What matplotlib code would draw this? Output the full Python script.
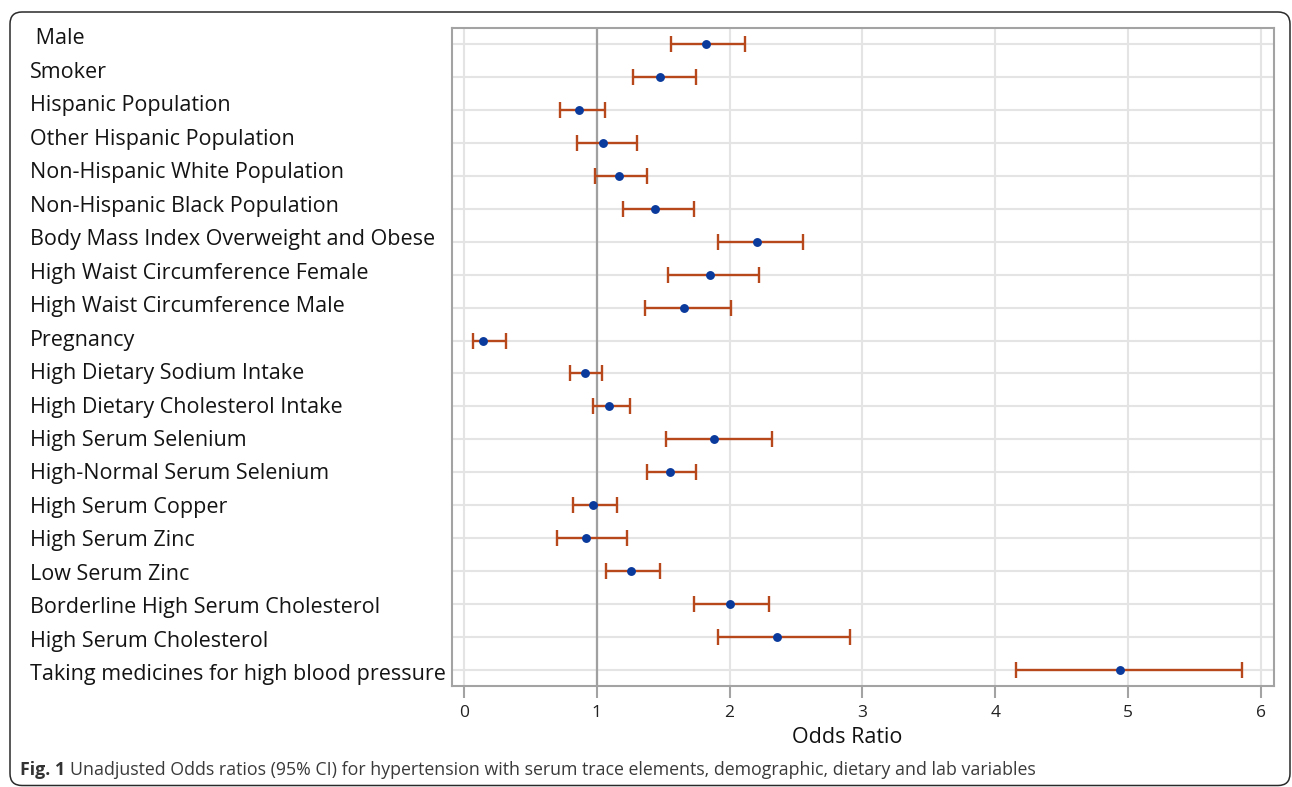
import matplotlib
matplotlib.use("Agg")
import matplotlib.pyplot as plt
from matplotlib.patches import FancyBboxPatch
from matplotlib.transforms import IdentityTransform, blended_transform_factory
import numpy as np

labels = [
    " Male", "Smoker", "Hispanic Population", "Other Hispanic Population",
    "Non-Hispanic White Population", "Non-Hispanic Black Population",
    "Body Mass Index Overweight and Obese", "High Waist Circumference Female",
    "High Waist Circumference Male", "Pregnancy", "High Dietary Sodium Intake",
    "High Dietary Cholesterol Intake", "High Serum Selenium",
    "High-Normal Serum Selenium", "High Serum Copper", "High Serum Zinc",
    "Low Serum Zinc", "Borderline High Serum Cholesterol",
    "High Serum Cholesterol", "Taking medicines for high blood pressure",
]
odds_ratio = [1.82, 1.48, 0.87, 1.05, 1.17, 1.44, 2.21, 1.85, 1.66, 0.14,
              0.91, 1.09, 1.88, 1.55, 0.97, 0.92, 1.26, 2.00, 2.36, 4.94]
ci_lower = [1.56, 1.27, 0.72, 0.85, 0.99, 1.20, 1.91, 1.54, 1.36, 0.07,
            0.80, 0.97, 1.52, 1.38, 0.82, 0.70, 1.07, 1.73, 1.91, 4.16]
ci_upper = [2.12, 1.75, 1.06, 1.30, 1.38, 1.73, 2.55, 2.22, 2.01, 0.32,
            1.04, 1.25, 2.32, 1.75, 1.15, 1.23, 1.48, 2.30, 2.91, 5.86]
x_ticks = [0, 1, 2, 3, 4, 5, 6]
x_label = "Odds Ratio"
caption_bold = "Fig. 1"
caption_text = ("Unadjusted Odds ratios (95% CI) for hypertension with serum trace "
                "elements, demographic, dietary and lab variables")

W, H = 1292, 787
fig = plt.figure(figsize=(W / 100, H / 100), dpi=100)
plt.rcParams['font.family'] = ['Open Sans', 'DejaVu Sans']

ax_l, ax_r, ax_t, ax_b = 452, 1274, 28, 686
ax = fig.add_axes([ax_l / W, 1 - ax_b / H, (ax_r - ax_l) / W, (ax_b - ax_t) / H])

n = len(labels)
ypos = np.arange(1, n + 1)
grid_c = "#e4e4e4"
spine_c = "#a3a3a3"

for y in ypos:
    ax.axhline(y, color=grid_c, lw=1.5, zorder=0)
for xt in x_ticks:
    ax.axvline(xt, color=grid_c, lw=1.5, zorder=0)
ax.axvline(1, color="#a0a0a0", lw=1.6, zorder=1)

lo = np.array(odds_ratio) - np.array(ci_lower)
hi = np.array(ci_upper) - np.array(odds_ratio)
ax.errorbar(odds_ratio, ypos, xerr=[lo, hi], fmt="none", ecolor="#b7481c",
            elinewidth=1.7, capsize=6, capthick=1.7, zorder=2)
ax.plot(odds_ratio, ypos, "o", color="#0a3a9c", ms=6.4, mew=0, zorder=3)

ax.set_xlim(-0.09, 6.10)
ax.set_ylim(n + 0.5, 0.5)
ax.set_xticks(x_ticks)
ax.set_xticklabels([str(t) for t in x_ticks], fontsize=12.5, color="#222222")
ax.set_yticks([])
ax.tick_params(axis="x", direction="out", length=8.5, width=1.5, color=spine_c, pad=5)
for s in ax.spines.values():
    s.set_color(spine_c)
    s.set_linewidth(1.5)

# category labels, left aligned in the left margin
trans = blended_transform_factory(fig.transFigure, ax.transData)
for i, lab in enumerate(labels):
    ax.text(30 / W, ypos[i] + i * 0.017, lab, transform=trans, ha="left",
            va="baseline", fontsize=15.5, color="#141414", clip_on=False)

fig.text(847 / W, 1 - 743 / H, x_label, ha="center", va="baseline",
         fontsize=15.5, color="#111111")

# caption
fig.canvas.draw()
t1 = fig.text(20 / W, 1 - 775 / H, caption_bold, ha="left", va="baseline",
              fontsize=12.8, fontweight="bold", color="#333333")
fig.canvas.draw()
bb = t1.get_window_extent()
fig.text((bb.x1 + 5) / W, 1 - 775 / H, caption_text, ha="left", va="baseline",
         fontsize=12.8, color="#3a3a3a")

# rounded frame
frame = FancyBboxPatch((10, 1.5), 1280, H - 12 - 1.5,
                       boxstyle="round,pad=0,rounding_size=12",
                       transform=IdentityTransform(), fill=False,
                       edgecolor="#2a2a2a", linewidth=1.1)
fig.patches.append(frame)

fig.savefig("out.png", dpi=100)
